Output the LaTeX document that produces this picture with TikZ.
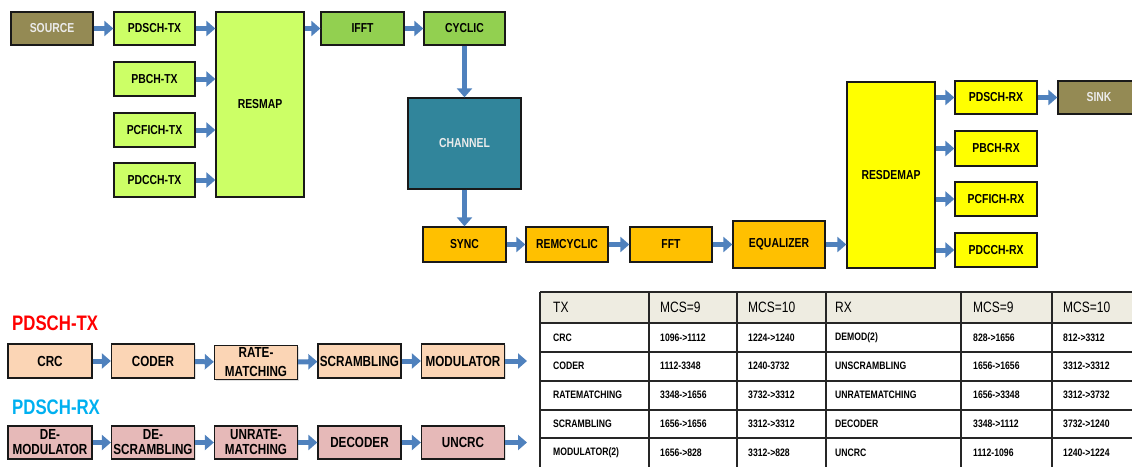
\documentclass[tikz,border=0pt]{standalone}
\usepackage{fontspec}
\setmainfont{Liberation Sans}[FakeStretch=0.8]
\usepackage{xcolor}
\usetikzlibrary{arrows.meta}
\usetikzlibrary{shadows}
\definecolor{srcolive}{RGB}{148,138,84}
\definecolor{txgreen}{RGB}{204,255,102}
\definecolor{fftgreen}{RGB}{146,208,80}
\definecolor{chteal}{RGB}{49,133,155}
\definecolor{rxorange}{RGB}{255,192,0}
\definecolor{rxyellow}{RGB}{255,255,0}
\definecolor{txpeach}{RGB}{251,213,181}
\definecolor{rxpink}{RGB}{230,185,184}
\definecolor{arrblue}{RGB}{79,129,189}
\definecolor{hdrbeige}{RGB}{238,236,225}
\definecolor{titlecyan}{RGB}{0,176,240}

\begin{document}
\begin{tikzpicture}[x=1pt,y=-1pt,
  blk/.style={draw=black!90,line width=1.3pt,inner sep=0pt,align=center,
    font=\bfseries\fontsize{13}{15}\selectfont,
    drop shadow={shadow xshift=1.2pt,shadow yshift=-1.2pt,fill=black!25}},
  pblk/.style={blk,font=\bfseries\fontsize{14.6}{19}\selectfont,minimum width=83pt,minimum height=34pt},
  rblk/.style={pblk,fill=rxpink,font=\bfseries\fontsize{14.6}{15}\selectfont,minimum height=33pt},
  arr/.style={draw=arrblue,line width=5pt,-{Triangle[length=9pt,width=15pt]}},
  cell/.style={anchor=west,inner sep=0pt,font=\bfseries\fontsize{10.8}{12}\selectfont},
  hcell/.style={anchor=west,inner sep=0pt,font=\fontsize{15}{17}\selectfont}]
  \useasboundingbox (0,0) rectangle (1132,466);

  % transmitter
  \node[blk,fill=srcolive,text=white!92!black,minimum width=82pt,minimum height=33pt] (source) at (52,28.5) {SOURCE};
  \node[blk,fill=txgreen,minimum width=81pt,minimum height=33pt] (pdschtx) at (154.5,28.5) {PDSCH-TX};
  \node[blk,fill=txgreen,minimum width=81pt,minimum height=34pt] (pbchtx) at (154.5,79) {PBCH-TX};
  \node[blk,fill=txgreen,minimum width=81pt,minimum height=34pt] (pcfichtx) at (154.5,130) {PCFICH-TX};
  \node[blk,fill=txgreen,minimum width=81pt,minimum height=34pt] (pdcchtx) at (154.5,180) {PDCCH-TX};
  \node[blk,fill=txgreen,minimum width=88pt,minimum height=185pt] (resmap) at (260,104.5) {RESMAP};
  \node[blk,fill=fftgreen,minimum width=83pt,minimum height=33pt] (ifft) at (362.5,28.5) {IFFT};
  \node[blk,fill=fftgreen,minimum width=81pt,minimum height=33pt] (cyclic) at (464.5,28.5) {CYCLIC};

  % channel
  \node[blk,fill=chteal,text=white!92!black,minimum width=113pt,minimum height=91pt] (channel) at (464.5,143.5) {CHANNEL};

  % receiver
  \node[blk,fill=rxorange,minimum width=83pt,minimum height=35pt] (sync) at (464.5,244.5) {SYNC};
  \node[blk,fill=rxorange,minimum width=82pt,minimum height=35pt] (remcyclic) at (567,244.5) {REMCYCLIC};
  \node[blk,fill=rxorange,minimum width=82pt,minimum height=35pt] (fft) at (671,244.5) {FFT};
  \node[blk,fill=rxorange,minimum width=92pt,minimum height=47pt] (equalizer) at (779,244.5) {EQUALIZER};
  \node[blk,fill=rxyellow,minimum width=88pt,minimum height=186pt] (resdemap) at (891,175) {RESDEMAP};
  \node[blk,fill=rxyellow,minimum width=82pt,minimum height=33pt] (pdschrx) at (996,97.5) {PDSCH-RX};
  \node[blk,fill=rxyellow,minimum width=82pt,minimum height=35pt] (pbchrx) at (996,148.5) {PBCH-RX};
  \node[blk,fill=rxyellow,minimum width=82pt,minimum height=34pt] (pcfichrx) at (996,199) {PCFICH-RX};
  \node[blk,fill=rxyellow,minimum width=82pt,minimum height=34pt] (pdcchrx) at (996,250) {PDCCH-RX};
  \node[blk,fill=srcolive,text=white!92!black,minimum width=82pt,minimum height=33pt] (sink) at (1099,97.5) {SINK};

  \draw[arr] (source) -- (pdschtx);
  \draw[arr] (pdschtx) -- (pdschtx -| resmap.west);
  \draw[arr] (pbchtx) -- (pbchtx -| resmap.west);
  \draw[arr] (pcfichtx) -- (pcfichtx -| resmap.west);
  \draw[arr] (pdcchtx) -- (pdcchtx -| resmap.west);
  \draw[arr] (ifft -| resmap.east) -- (ifft);
  \draw[arr] (ifft) -- (cyclic);
  \draw[arr] (cyclic) -- (channel);
  \draw[arr] (channel) -- (sync);
  \draw[arr] (sync) -- (remcyclic);
  \draw[arr] (remcyclic) -- (fft);
  \draw[arr] (fft) -- (equalizer);
  \draw[arr] (equalizer) -- (equalizer -| resdemap.west);
  \draw[arr] (pdschrx -| resdemap.east) -- (pdschrx);
  \draw[arr] (pbchrx -| resdemap.east) -- (pbchrx);
  \draw[arr] (pcfichrx -| resdemap.east) -- (pcfichrx);
  \draw[arr] (pdcchrx -| resdemap.east) -- (pdcchrx);
  \draw[arr] (pdschrx) -- (sink);

  % PDSCH chains
  \node[anchor=base west,inner sep=0pt,text=red,font=\bfseries\fontsize{21}{24}\selectfont] (txtitle) at (12,330) {PDSCH-TX};
  \node[pblk,fill=txpeach,minimum width=84pt] (crc) at (50,361) {CRC};
  \node[pblk,fill=txpeach] (coder) at (153,361) {CODER};
  \node[pblk,fill=txpeach] (ratematch) at (256,362.5) {RATE-\\MATCHING};
  \node[pblk,fill=txpeach] (scrambling) at (359.5,361) {SCRAMBLING};
  \node[pblk,fill=txpeach] (modulator) at (463,361) {MODULATOR};
  \coordinate (txout) at (527,361);
  \draw[arr] (crc) -- (coder);
  \draw[arr] (coder) -- (ratematch);
  \draw[arr] (ratematch) -- (scrambling);
  \draw[arr] (scrambling) -- (modulator);
  \draw[arr] (modulator) -- (txout);

  \node[anchor=base west,inner sep=0pt,text=titlecyan,font=\bfseries\fontsize{21}{24}\selectfont] (rxtitle) at (12,414) {PDSCH-RX};
  \node[rblk,minimum width=84pt] (demod) at (50,442.5) {DE-\\MODULATOR};
  \node[rblk] (descr) at (153,442.5) {DE-\\SCRAMBLING};
  \node[rblk] (unratematch) at (256,442.5) {UNRATE-\\MATCHING};
  \node[rblk] (decoder) at (359.5,442.5) {DECODER};
  \node[rblk] (uncrc) at (463,442.5) {UNCRC};
  \coordinate (rxout) at (527,442.5);
  \draw[arr] (demod) -- (descr);
  \draw[arr] (descr) -- (unratematch);
  \draw[arr] (unratematch) -- (decoder);
  \draw[arr] (decoder) -- (uncrc);
  \draw[arr] (uncrc) -- (rxout);

  % table of block sizes
  \fill[hdrbeige] (540,292) rectangle (1140,323);
  \foreach \y in {292,323,352,381,410,438}
    \draw[line width=1.6pt,black!85] (540,\y) -- (1140,\y);
  \foreach \x in {540,649,737,826,961,1052}
    \draw[line width=1.6pt,black!85] (\x,292) -- (\x,470);
  \node[hcell] (htx) at (553,307.5) {TX};
  \node[hcell] (htxa) at (660,307.5) {MCS=9};
  \node[hcell] (htxb) at (748,307.5) {MCS=10};
  \node[hcell] (hrx) at (835,307.5) {RX};
  \node[hcell] (hrxa) at (973,307.5) {MCS=9};
  \node[hcell] (hrxb) at (1063,307.5) {MCS=10};
  \foreach \a/\b/\c/\d/\e/\f [count=\r] in {
      CRC/1096->1112/1224->1240/DEMOD(2)/828->1656/812->3312,
      CODER/1112-3348/1240-3732/UNSCRAMBLING/1656->1656/3312->3312,
      RATEMATCHING/3348->1656/3732->3312/UNRATEMATCHING/1656->3348/3312->3732,
      SCRAMBLING/1656->1656/3312->3312/DECODER/3348->1112/3732->1240,
      MODULATOR(2)/1656->828/3312->828/UNCRC/1112-1096/1240->1224} {
    \node[cell] (ta\r) at (553,337.5+28.7*\r-28.7) {\a};
    \node[cell] (tb\r) at (660,337.5+28.7*\r-28.7) {\b};
    \node[cell] (tc\r) at (748,337.5+28.7*\r-28.7) {\c};
    \node[cell] (td\r) at (835,337.5+28.7*\r-28.7) {\d};
    \node[cell] (te\r) at (973,337.5+28.7*\r-28.7) {\e};
    \node[cell] (tf\r) at (1063,337.5+28.7*\r-28.7) {\f};
  }
\end{tikzpicture}
\end{document}
